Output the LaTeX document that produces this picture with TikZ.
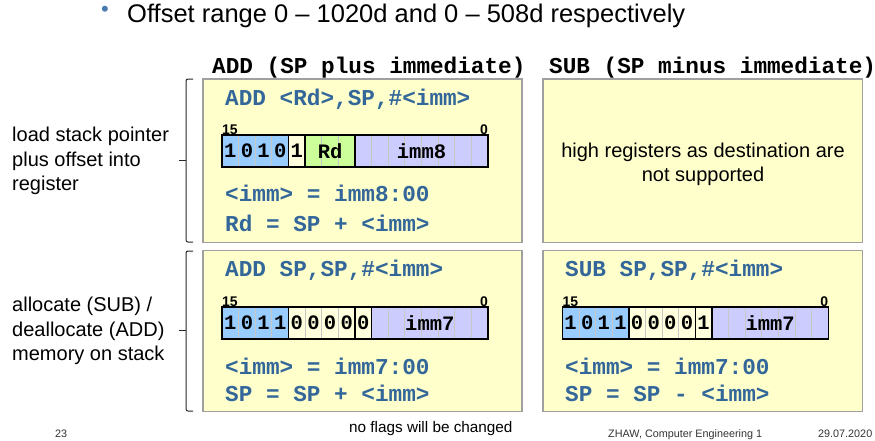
\documentclass[tikz,border=0pt]{standalone}
\usepackage{fontspec}
\setmainfont{Liberation Sans}
\newfontfamily\codefont{Liberation Mono}
\definecolor{codeblue}{HTML}{336699}
\definecolor{bulletblue}{HTML}{4A7AB0}
\definecolor{panelyellow}{HTML}{FFFFCC}
\definecolor{panelgray}{HTML}{A0A0A0}
\definecolor{bitblue}{HTML}{99CCFF}
\definecolor{bitcream}{HTML}{FFFFDD}
\definecolor{bitgreen}{HTML}{CCFF99}
\definecolor{bitpurple}{HTML}{CCCCFF}
\begin{document}
\begin{tikzpicture}[x=1pt,y=-1pt,
    panel/.style={draw=panelgray,line width=1.2pt,fill=panelyellow},
    header/.style={anchor=base west,inner sep=0pt,font=\codefont\bfseries\fontsize{22.7}{27}\selectfont},
    code/.style={anchor=base west,inner sep=0pt,text=codeblue,font=\codefont\bfseries\fontsize{22.7}{27}\selectfont},
    bit/.style={inner sep=0pt,font=\codefont\bfseries\fontsize{20.5}{20.5}\selectfont},
    bitnum/.style={inner sep=0pt,font=\bfseries\fontsize{14}{14}\selectfont},
    cellsep/.style={draw=black!22,line width=0.8pt},
    fieldline/.style={draw=black,line width=1.6pt},
    bracket/.style={draw=black!85,line width=1pt,rounded corners=2pt},
    note/.style={align=left,inner sep=0pt,font=\fontsize{20}{24.5}\selectfont},
    footer/.style={anchor=base west,inner sep=0pt,text=black!80,font=\fontsize{10.8}{12}\selectfont}]
  \useasboundingbox (0,0) rectangle (875,440);

  % title line
  \node[anchor=base west,inner sep=0pt,text=bulletblue,font=\fontsize{22}{22}\selectfont] (bullet) at (101,16) {•};
  \node[anchor=base west,inner sep=0pt,font=\fontsize{25.5}{30}\selectfont] (title) at (127,22)
    {Offset range 0 – 1020d and 0 – 508d respectively};

  % column headers
  \node[header] (addhead) at (212,73) {ADD (SP plus immediate)};
  \node[header] (subhead) at (549,73) {SUB (SP minus immediate)};

  % panels
  \draw[panel] (203,79) rectangle (522,242.5);
  \draw[panel] (543,79) rectangle (862.5,242.5);
  \draw[panel] (203,250.7) rectangle (522,411.5);
  \draw[panel] (543,250.7) rectangle (862.5,411.5);

  % brackets and row labels
  \draw[bracket] (193,79) -- (186,79) -- (186,242) -- (193,242);
  \draw[bracket] (179,160) -- (186,160);
  \draw[bracket] (193,251) -- (186,251) -- (186,411) -- (193,411);
  \draw[bracket] (179,330) -- (186,330);
  \node[note,anchor=west] (loadnote) at (12,161)
    {load stack pointer\\plus offset into\\register};
  \node[note,anchor=west] (allocnote) at (12,331)
    {allocate (SUB) /\\deallocate (ADD)\\memory on stack};

  % ADD Rd, SP
  \node[code] (addrd) at (225,105) {ADD <Rd>,SP,\#<imm>};
  \begin{scope}[shift={(222,135)},x=16.625pt]
    \fill[bitblue] (0,0) rectangle (4,32);
    \fill[bitcream] (4,0) rectangle (5,32);
    \fill[bitgreen] (5,0) rectangle (8,32);
    \fill[bitpurple] (8,0) rectangle (16,32);
    \foreach \i in {1,...,15}
      \draw[cellsep] (\i,0) -- (\i,32);
    \draw[fieldline] (0,0) rectangle (16,32);
    \draw[fieldline] (4,0) -- (4,32) (5,0) -- (5,32) (8,0) -- (8,32);
    \node[bitnum,anchor=base west] (addrdhi) at (0,-1) {15};
    \node[bitnum,anchor=base east] (addrdlo) at (16,-1) {0};
    \node[bit] (addrdb15) at (0.5,16) {1};
    \node[bit] (addrdb14) at (1.5,16) {0};
    \node[bit] (addrdb13) at (2.5,16) {1};
    \node[bit] (addrdb12) at (3.5,16) {0};
    \node[bit] (addrdb11) at (4.5,16) {1};
    \node[bit] (addrdreg) at (6.5,16) {Rd};
    \node[bit] (addrdimm) at (12,16) {imm8};
  \end{scope}
  \node[code] (addrdimmdef) at (225,201.5) {<imm> = imm8:00};
  \node[code] (addrdop) at (225,231.5) {Rd = SP + <imm>};

  % SUB Rd, SP
  \node[align=center,inner sep=0pt,font=\fontsize{20}{24}\selectfont] (nohigh) at (703,164)
    {high registers as destination are\\not supported};

  % ADD SP, SP
  \node[code] (addsp) at (225,276) {ADD SP,SP,\#<imm>};
  \begin{scope}[shift={(222,307)},x=16.625pt]
    \fill[bitblue] (0,0) rectangle (4,32);
    \fill[bitcream] (4,0) rectangle (9,32);
    \fill[bitpurple] (9,0) rectangle (16,32);
    \foreach \i in {1,...,15}
      \draw[cellsep] (\i,0) -- (\i,32);
    \draw[fieldline] (0,0) rectangle (16,32);
    \draw[fieldline] (4,0) -- (4,32) (8,0) -- (8,32) (9,0) -- (9,32);
    \node[bitnum,anchor=base west] (addsphi) at (0,-1) {15};
    \node[bitnum,anchor=base east] (addsplo) at (16,-1) {0};
    \foreach \b [count=\k from 0] in {1,0,1,1,0,0,0,0,0}
      \node[bit] (addspb\k) at (\k+0.5,16) {\b};
    \node[bit] (addspimm) at (12.5,16) {imm7};
  \end{scope}
  \node[code] (addspimmdef) at (225,374) {<imm> = imm7:00};
  \node[code] (addspop) at (225,401.7) {SP = SP + <imm>};

  % SUB SP, SP
  \node[code] (subsp) at (565,276) {SUB SP,SP,\#<imm>};
  \begin{scope}[shift={(562.3,307)},x=16.625pt]
    \fill[bitblue] (0,0) rectangle (4,32);
    \fill[bitcream] (4,0) rectangle (9,32);
    \fill[bitpurple] (9,0) rectangle (16,32);
    \foreach \i in {1,...,15}
      \draw[cellsep] (\i,0) -- (\i,32);
    \draw[fieldline] (0,0) rectangle (16,32);
    \draw[fieldline] (4,0) -- (4,32) (8,0) -- (8,32) (9,0) -- (9,32);
    \node[bitnum,anchor=base west] (subsphi) at (0,-1) {15};
    \node[bitnum,anchor=base east] (subsplo) at (16,-1) {0};
    \foreach \b [count=\k from 0] in {1,0,1,1,0,0,0,0,1}
      \node[bit] (subspb\k) at (\k+0.5,16) {\b};
    \node[bit] (subspimm) at (12.5,16) {imm7};
  \end{scope}
  \node[code] (subspimmdef) at (565,374) {<imm> = imm7:00};
  \node[code] (subspop) at (565,401.7) {SP = SP - <imm>};

  % footer
  \node[anchor=base west,inner sep=0pt,font=\fontsize{15.3}{18}\selectfont] (noflags) at (349,432)
    {no flags will be changed};
  \node[footer] (pagenum) at (55,437) {23};
  \node[footer] (course) at (608,437) {ZHAW, Computer Engineering 1};
  \node[footer] (date) at (818,437) {29.07.2020};
\end{tikzpicture}
\end{document}
